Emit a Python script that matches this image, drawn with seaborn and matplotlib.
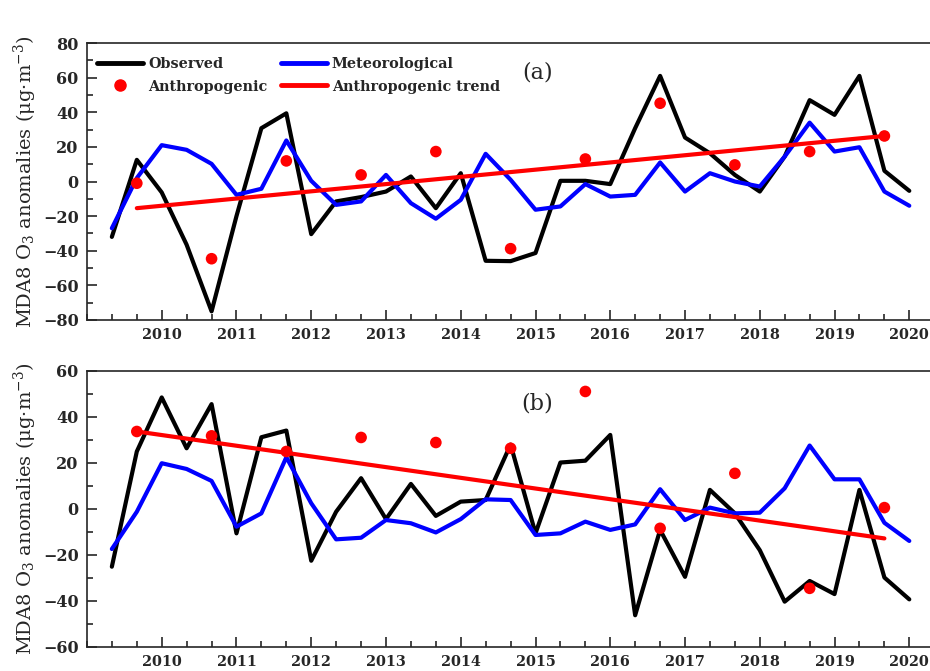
import matplotlib
matplotlib.use('Agg')
import matplotlib.pyplot as plt
from matplotlib.lines import Line2D
from matplotlib.ticker import MultipleLocator
import pandas as pd
import seaborn as sns

# Время (сезоны, шаг 1/3 года)
t = [2009.333, 2009.667, 2010.000, 2010.333, 2010.667, 2011.000, 2011.333,
     2011.667, 2012.000, 2012.333, 2012.667, 2013.000, 2013.333, 2013.667,
     2014.000, 2014.333, 2014.667, 2015.000, 2015.333, 2015.667, 2016.000,
     2016.333, 2016.667, 2017.000, 2017.333, 2017.667, 2018.000, 2018.333,
     2018.667, 2019.000, 2019.333, 2019.667, 2020.000]
t_anthro = [2009.667, 2010.667, 2011.667, 2012.667, 2013.667, 2014.667,
            2015.667, 2016.667, 2017.667, 2018.667, 2019.667]
t_trend = [2009.667, 2019.667]

# Панель (a)
obs_a = [-32, 12.5, -6.3, -36.5, -75, -20, 30.8, 39.4, -30.4, -11.5, -9, -5.8,
         2.9, -15.4, 4.8, -45.8, -46, -41.3, 0.4, 0.4, -1.5, 30.8, 61, 25.4,
         16.3, 3.8, -5.8, 14.4, 47, 38.5, 61, 6.2, -5.4]
met_a = [-27, 2, 21, 18.3, 10.2, -7.7, -4.2, 23.7, 0.4, -13.5, -11.5, 3.8,
         -12.5, -21.5, -10.6, 16, 1, -16.3, -14.4, -1.5, -8.7, -7.7, 11, -5.8,
         4.8, 0, -2.9, 14.4, 34, 17.3, 19.8, -5.8, -14]
anthro_a = [-1, -44.6, 11.9, 3.8, 17.3, -38.8, 13, 45.2, 9.6, 17.3, 26.3]
trend_a = [-15.4, 26.3]

# Панель (b)
obs_b = [-25.1, 25, 48.5, 26.4, 45.6, -10.6, 31.2, 34.1, -22.5, -1.2, 13.4,
         -4.4, 10.9, -3, 3.2, 3.9, 28, -10.6, 20.2, 21, 32.2, -46.2, -9.1,
         -29.5, 8.3, -1.9, -17.9, -40.3, -31.3, -37, 8.3, -29.8, -39.3]
met_b = [-17.4, -1.2, 19.9, 17.4, 12.2, -7.7, -1.9, 22.5, 2.5, -13.2, -12.5,
         -4.8, -6.2, -10.2, -4.4, 4.2, 3.9, -11.3, -10.6, -5.5, -9.1, -6.7,
         8.6, -4.8, 0.6, -1.9, -1.6, 9, 27.6, 12.9, 12.9, -6, -13.9]
anthro_b = [33.7, 31.8, 25, 31.1, 28.9, 26.4, 51.1, -8.4, 15.5, -34.5, 0.6]
trend_b = [33.7, -12.8]

year_ticks = list(range(2010, 2021))

sns.set_style('ticks')
plt.rcParams['font.family'] = ['DejaVu Serif']
plt.rcParams['mathtext.fontset'] = 'dejavuserif'

fig = plt.figure(figsize=(9.3, 6.71), dpi=100)
ax_a = fig.add_axes([0.0935, 0.5231, 0.9065, 0.4128])
ax_b = fig.add_axes([0.0935, 0.0358, 0.9065, 0.4113])

ylabel = r'MDA8 O$_3$ anomalies (μg·m$^{-3}$)'


def draw_panel(ax, obs, met, anthro, trend, ylim, letter, letter_y):
    sns.lineplot(x=t, y=obs, color='black', linewidth=3, ax=ax)
    sns.lineplot(x=t, y=met, color='#0000ff', linewidth=3, ax=ax)
    sns.lineplot(x=t_trend, y=trend, color='#ff0000', linewidth=3, ax=ax)
    sns.scatterplot(x=t_anthro, y=anthro, color='#ff0000', s=70,
                    edgecolor='none', ax=ax, zorder=3)

    ax.set_xlim(2009, 2020.277)
    ax.set_ylim(*ylim)
    ax.set_xticks(year_ticks)
    ax.xaxis.set_minor_locator(MultipleLocator(1 / 3))
    ax.yaxis.set_major_locator(MultipleLocator(20))
    ax.yaxis.set_minor_locator(MultipleLocator(10))
    ax.tick_params(which='both', direction='in', width=1.2,
                   top=False, right=False)
    ax.tick_params(which='major', length=7)
    ax.tick_params(which='minor', length=4)
    ax.tick_params(axis='x', pad=6, labelsize=10.4)
    ax.tick_params(axis='y', pad=6, labelsize=11.5)
    for lab in ax.get_xticklabels() + ax.get_yticklabels():
        lab.set_fontweight('bold')
    for sp in ax.spines.values():
        sp.set_linewidth(1.2)
    ax.spines['right'].set_visible(False)
    ax.set_ylabel(ylabel, fontsize=14, labelpad=3)
    ax.text(0.534, letter_y, letter, transform=ax.transAxes, fontsize=16,
            ha='center', va='center')


draw_panel(ax_a, obs_a, met_a, anthro_a, trend_a, (-80, 80), '(a)', 0.895)
draw_panel(ax_b, obs_b, met_b, anthro_b, trend_b, (-60, 60), '(b)', 0.884)

handles = [
    Line2D([], [], color='black', linewidth=3.5),
    Line2D([], [], color='#ff0000', marker='o', linestyle='none', markersize=8),
    Line2D([], [], color='#0000ff', linewidth=3.5),
    Line2D([], [], color='#ff0000', linewidth=3.5),
]
labels = ['Observed', 'Anthropogenic', 'Meteorological', 'Anthropogenic trend']
ax_a.legend(handles, labels, ncol=2, loc='upper left',
            bbox_to_anchor=(0.012, 0.95), frameon=False, borderaxespad=0,
            borderpad=0, handlelength=3.2, handletextpad=0.35,
            columnspacing=0.9, labelspacing=0.6,
            prop={'weight': 'bold', 'size': 10.4})

fig.savefig('out.png', dpi=100)
